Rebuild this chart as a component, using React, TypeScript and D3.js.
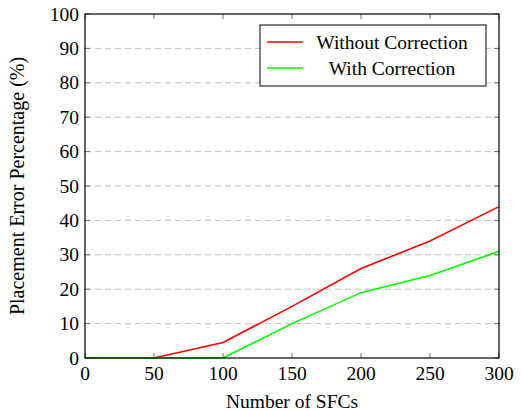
import React, { useEffect, useRef } from 'react';
import * as d3 from 'd3';

const sfcCounts = [0, 50, 100, 150, 200, 250, 300];
const withoutCorrection = [0, 0, 4.5, 15, 26, 34, 44];
const withCorrection = [0, 0, 0, 10, 19, 24, 31];
const xTicks = [0, 50, 100, 150, 200, 250, 300];
const yTicks = [0, 10, 20, 30, 40, 50, 60, 70, 80, 90, 100];
const seriesNames = ['Without Correction', 'With Correction'];
const seriesColors = ['#ff0000', '#00ff00'];

const App = () => {
  const ref = useRef<SVGSVGElement>(null);

  useEffect(() => {
    const svg = d3.select(ref.current);
    svg.selectAll('*').remove();

    const left = 85, right = 499, top = 14, bottom = 358;
    const fs = '19.5px';

    const x = d3.scaleLinear().domain([0, 300]).range([left, right]);
    const y = d3.scaleLinear().domain([0, 100]).range([bottom, top]);

    // grid
    svg.append('g')
      .selectAll('line')
      .data(yTicks.filter(t => t > 0 && t < 100))
      .enter().append('line')
      .attr('x1', left).attr('x2', right)
      .attr('y1', d => y(d)).attr('y2', d => y(d))
      .attr('stroke', '#c0c0c0')
      .attr('stroke-width', 1)
      .attr('stroke-dasharray', '6,4');

    const tickLen = 5;
    const ticks = svg.append('g').attr('stroke', '#707070').attr('stroke-width', 1);
    xTicks.forEach(t => {
      ticks.append('line').attr('x1', x(t)).attr('x2', x(t)).attr('y1', bottom).attr('y2', bottom - tickLen);
      ticks.append('line').attr('x1', x(t)).attr('x2', x(t)).attr('y1', top).attr('y2', top + tickLen);
    });
    yTicks.forEach(t => {
      ticks.append('line').attr('x1', left).attr('x2', left + tickLen).attr('y1', y(t)).attr('y2', y(t));
      ticks.append('line').attr('x1', right).attr('x2', right - tickLen).attr('y1', y(t)).attr('y2', y(t));
    });

    // lines
    const line = d3.line<number>()
      .x((_, i) => x(sfcCounts[i]))
      .y(d => y(d));
    [withoutCorrection, withCorrection].forEach((vals, i) => {
      svg.append('path')
        .datum(vals)
        .attr('d', line)
        .attr('fill', 'none')
        .attr('stroke', seriesColors[i])
        .attr('stroke-width', 1.6);
    });

    // frame
    svg.append('rect')
      .attr('x', left).attr('y', top)
      .attr('width', right - left).attr('height', bottom - top)
      .attr('fill', 'none').attr('stroke', '#000').attr('stroke-width', 1.2);

    // tick labels
    svg.append('g')
      .selectAll('text')
      .data(xTicks)
      .enter().append('text')
      .attr('x', d => x(d)).attr('y', bottom + 22)
      .attr('text-anchor', 'middle')
      .style('font-size', fs)
      .text(d => d);

    svg.append('g')
      .selectAll('text')
      .data(yTicks)
      .enter().append('text')
      .attr('x', left - 6).attr('y', d => y(d) + 6.5)
      .attr('text-anchor', 'end')
      .style('font-size', fs)
      .text(d => d);

    svg.append('text')
      .attr('x', (left + right) / 2).attr('y', 408)
      .attr('text-anchor', 'middle')
      .style('font-size', fs)
      .text('Number of SFCs');

    svg.append('text')
      .attr('transform', `translate(24,${(top + bottom) / 2}) rotate(-90)`)
      .attr('text-anchor', 'middle')
      .style('font-size', '20px')
      .text('Placement Error Percentage (%)');

    // legend
    const lg = svg.append('g');
    lg.append('rect')
      .attr('x', 260).attr('y', 25).attr('width', 226).attr('height', 61)
      .attr('fill', '#fff').attr('stroke', '#000').attr('stroke-width', 1);
    seriesNames.forEach((name, i) => {
      const cy = 42 + i * 26;
      lg.append('line')
        .attr('x1', 267).attr('x2', 303).attr('y1', cy).attr('y2', cy)
        .attr('stroke', seriesColors[i]).attr('stroke-width', 1.6);
      lg.append('text')
        .attr('x', 392).attr('y', cy + 6.5)
        .attr('text-anchor', 'middle')
        .style('font-size', fs)
        .text(name);
    });
  }, []);

  return (
    <svg ref={ref} width={521} height={411}
      fontFamily="'Times New Roman', 'Liberation Serif', 'DejaVu Serif', Tinos, serif"
      style={{ position: 'absolute', left: 0, top: 0, background: '#fff' }} />
  );
};

export default App;
